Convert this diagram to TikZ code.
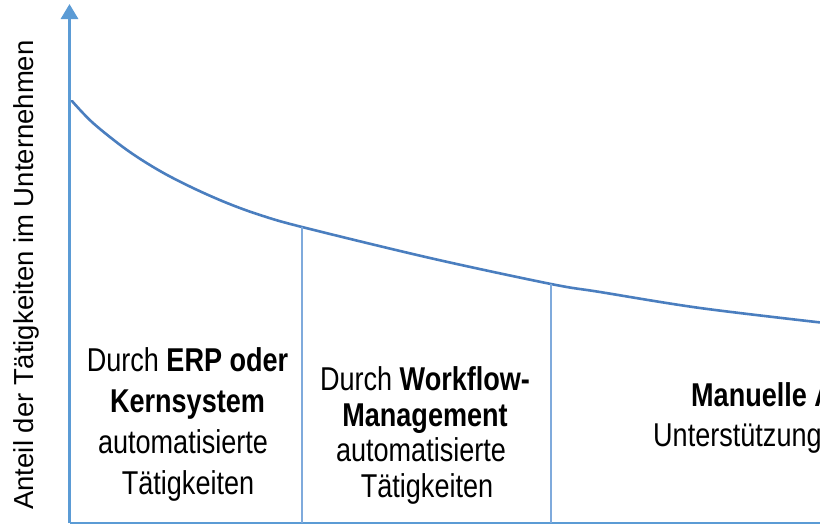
\documentclass[tikz,border=0pt]{standalone}
\usepackage{fontspec}
\setmainfont{Liberation Sans}
\newfontfamily\narrowfont[FakeStretch=0.82]{Liberation Sans}
\usetikzlibrary{arrows.meta}
\definecolor{axisblue}{HTML}{5B9BD5}
\definecolor{curveblue}{HTML}{4A7EBF}
\definecolor{sepblue}{HTML}{7FAADC}
\tikzset{
  x=1pt, y=-1pt,
  axisline/.style={draw=axisblue, line width=3pt},
  curveline/.style={draw=curveblue, line width=2.6pt, line cap=round},
  sepline/.style={draw=sepblue, line width=1.5pt},
  bodytext/.style={inner sep=0pt, font=\narrowfont\fontsize{33}{40}\selectfont},
  labeltext/.style={inner sep=0pt, font=\fontsize{27.5}{33}\selectfont},
}
\begin{document}
\begin{tikzpicture}
\useasboundingbox (0,0) rectangle (820,525);
\clip (0,0) rectangle (820,525);
\fill[white] (0,0) rectangle (820,525);
% axes
\coordinate (origin) at (69.5,523);
\coordinate (ytop) at (69.5,4);
\coordinate (xend) at (822,523);
\draw[axisline, -{Triangle[width=17pt,length=15pt]}] (origin) -- (ytop);
\draw[draw=axisblue, line width=2.5pt] (origin) -- (xend);
% curve
\coordinate (c1) at (302,227);
\coordinate (c2) at (551,284);
\draw[curveline] plot[smooth, tension=0.55] coordinates {(72,101) (93,123) (127,150) (160,171) (193,188) (227,203) (260,215) (302,227) (430,258) (551,284) (600,292) (700,308) (825,323)};
% separators
\coordinate (b1) at (302,523);
\coordinate (b2) at (551,523);
\draw[sepline] (c1) -- (b1);
\draw[sepline] (c2) -- (b2);
% y label
\node[labeltext, rotate=90, anchor=base] (ylabel) at (33,275) {Anteil der Tätigkeiten im Unternehmen};
% block 1
\node[bodytext, anchor=base] (a1) at (187.5,371) {Durch \textbf{ERP oder}};
\node[bodytext, anchor=base] (a2) at (187.5,412) {\textbf{Kernsystem}};
\node[bodytext, anchor=base] (a3) at (183,453) {automatisierte};
\node[bodytext, anchor=base] (a4) at (188,494) {Tätigkeiten};
% block 2
\node[bodytext, anchor=base] (b1t) at (425,390) {Durch \textbf{Workflow-}};
\node[bodytext, anchor=base] (b2t) at (425,426) {\textbf{Management}};
\node[bodytext, anchor=base] (b3t) at (421,461) {automatisierte};
\node[bodytext, anchor=base] (b4t) at (427,497) {Tätigkeiten};
% block 3 (cut at the right edge)
\node[bodytext, anchor=base west] (m1) at (691,406) {\textbf{Manuelle A}};
\node[bodytext, anchor=base west] (m2) at (653,446) {Unterstützung};
\end{tikzpicture}
\end{document}
